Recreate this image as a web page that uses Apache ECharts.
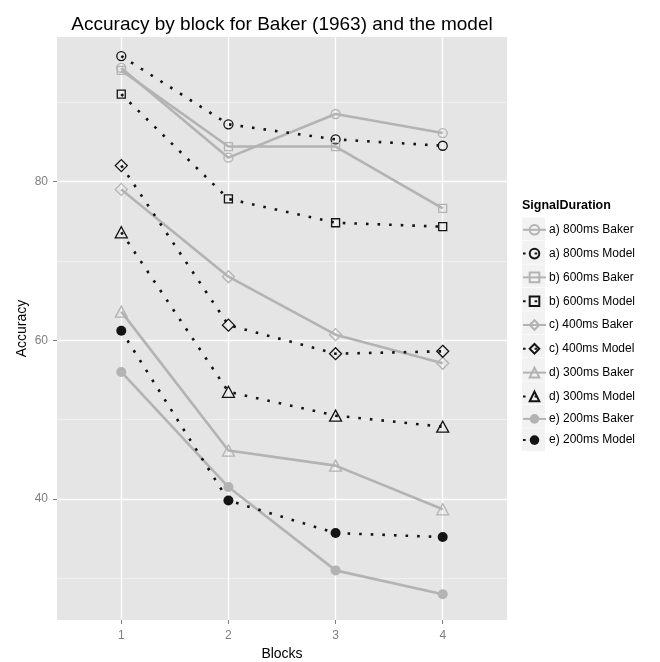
<!DOCTYPE html>
<html>
<head>
<meta charset="utf-8">
<script src="https://cdn.jsdelivr.net/npm/echarts@6/dist/echarts.min.js"></script>
<style>html,body{margin:0;padding:0;background:#fff}#c{width:660px;height:662px}</style>
</head>
<body>
<div id="c"></div>
<script>
const blocks = [1, 2, 3, 4];
const xTicks = [1, 2, 3, 4];
const yTicks = [40, 60, 80];
const yMinorTicks = [30, 50, 70, 90];
const seriesNames = ['a) 800ms Baker', 'a) 800ms Model', 'b) 600ms Baker', 'b) 600ms Model',
  'c) 400ms Baker', 'c) 400ms Model', 'd) 300ms Baker', 'd) 300ms Model', 'e) 200ms Baker', 'e) 200ms Model'];
const baker800 = [94.3, 83.0, 88.5, 86.1];
const model800 = [95.8, 87.2, 85.3, 84.5];
const baker600 = [94.0, 84.4, 84.4, 76.6];
const model600 = [91.0, 77.8, 74.8, 74.3];
const baker400 = [79.0, 68.0, 60.7, 57.1];
const model400 = [82.0, 61.9, 58.3, 58.6];
const baker300 = [63.6, 46.1, 44.2, 38.7];
const model300 = [73.6, 53.5, 50.5, 49.1];
const baker200 = [56.0, 41.5, 31.0, 28.0];
const model200 = [61.2, 39.8, 35.7, 35.2];

const values = [baker800, model800, baker600, model600, baker400, model400, baker300, model300, baker200, model200];
const shapes = ['circle', 'rect', 'diamond', 'triangle', 'circle'];
const sizes = [9, 8, [12, 12], [12, 11], 10];
const BAKER = '#b3b3b3', MODEL = '#141414';
const FONT = 'Liberation Sans, Arial, Helvetica, sans-serif';

const series = values.map((vals, i) => {
  const g = Math.floor(i / 2), isModel = i % 2 === 1, col = isModel ? MODEL : BAKER;
  const filled = g === 4;
  return {
    name: seriesNames[i], type: 'line', data: blocks.map((b, k) => [b, vals[k]]),
    symbol: shapes[g], symbolSize: sizes[g], showSymbol: true,
    lineStyle: isModel ? {color: col, width: 2.6, type: [2.6, 9], cap: 'butt'} : {color: col, width: 2.6},
    itemStyle: filled ? {color: col, borderWidth: 0} : {color: 'none', borderColor: col, borderWidth: 1.3},
    emphasis: {disabled: true}, animation: false, z: 3
  };
});

const gridL = 57, gridT = 37, gridR = 153, gridB = 42;
const legFirstCenter = 229, legLeft = 522, keyH = 23.4;
const keyRects = seriesNames.map((n, i) => ({
  type: 'rect', left: legLeft, top: legFirstCenter - keyH / 2 + i * keyH + 0.3, z: 0,
  shape: {width: 23, height: keyH - 0.6}, style: {fill: '#f2f2f2'}
}));

const chart = echarts.init(document.getElementById('c'));
chart.setOption({
  backgroundColor: '#fff',
  animation: false,
  textStyle: {fontFamily: FONT},
  title: [
    {text: 'Accuracy by block for Baker (1963) and the model', left: 277, top: 10, textAlign: 'center',
      textStyle: {fontFamily: FONT, fontSize: 19, fontWeight: 'normal', color: '#000'}},
    {text: 'SignalDuration', left: 517, top: 194,
      textStyle: {fontFamily: FONT, fontSize: 12.5, fontWeight: 'bold', color: '#000'}}
  ],
  graphic: keyRects,
  legend: {
    orient: 'vertical', left: legLeft, top: legFirstCenter - 6.5, padding: 0,
    itemWidth: 23, itemHeight: 12, itemGap: 9.2,
    data: seriesNames, textStyle: {fontFamily: FONT, fontSize: 12, color: '#000', padding: [0, 0, 0, -2]},
    selectedMode: false, z: 5
  },
  grid: {left: gridL, top: gridT, right: gridR, bottom: gridB, show: true, backgroundColor: '#e5e5e5',
    borderWidth: 0, containLabel: false, outerBoundsMode: 'none'},
  xAxis: {
    type: 'value', min: 0.4, max: 4.6, name: 'Blocks', nameLocation: 'middle', nameGap: 26,
    nameTextStyle: {fontFamily: FONT, fontSize: 14, color: '#000'},
    axisLine: {show: false},
    axisTick: {show: true, length: 4, customValues: xTicks, lineStyle: {color: '#7f7f7f', width: 1}},
    axisLabel: {customValues: xTicks, margin: 10, fontSize: 12, color: '#7f7f7f', fontFamily: FONT},
    splitLine: {show: true, lineStyle: {color: '#fff', width: 1.3}}
  },
  yAxis: [{
    type: 'value', min: 24.75, max: 98.2, name: 'Accuracy', nameLocation: 'middle', nameGap: 28,
    nameMoveOverlap: false,
    nameTextStyle: {fontFamily: FONT, fontSize: 14, color: '#000'},
    axisLine: {show: false},
    axisTick: {show: true, length: 4, customValues: yTicks, lineStyle: {color: '#7f7f7f', width: 1}},
    axisLabel: {customValues: yTicks, margin: 9, fontSize: 12, color: '#7f7f7f', fontFamily: FONT},
    splitLine: {show: true, lineStyle: {color: '#fff', width: 1.3}}
  }, {
    type: 'value', min: 24.75, max: 98.2, position: 'left',
    axisLine: {show: false},
    axisTick: {show: false, customValues: yMinorTicks},
    axisLabel: {show: false, customValues: yMinorTicks},
    splitLine: {show: true, lineStyle: {color: '#f2f2f2', width: 0.8}}
  }],
  series: series
});
</script>
</body>
</html>
